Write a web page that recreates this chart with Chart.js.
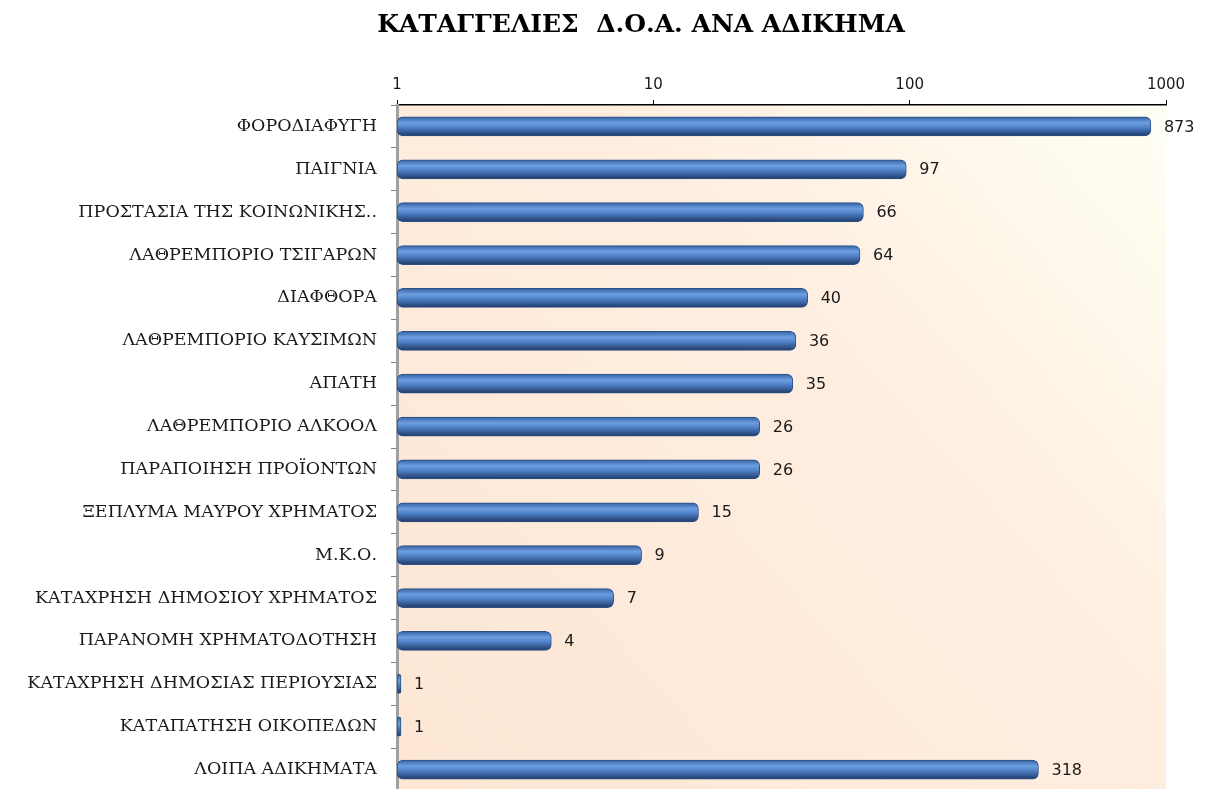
<!DOCTYPE html>
<html>
<head>
<meta charset="utf-8">
<script src="https://cdn.jsdelivr.net/npm/chart.js@4"></script>
<style>
  html, body { margin: 0; padding: 0; background: #ffffff; overflow: hidden; }
  #wrap { width: 1213px; height: 791px; position: relative; }
</style>
</head>
<body>
<div id="wrap"><canvas id="offenceChart"></canvas></div>
<script>
// --- data ---
const chartTitle = "ΚΑΤΑΓΓΕΛΙΕΣ  Δ.Ο.Α. ΑΝΑ ΑΔΙΚΗΜΑ";
const offences = [
    "ΦΟΡΟΔΙΑΦΥΓΗ",
    "ΠΑΙΓΝΙΑ",
    "ΠΡΟΣΤΑΣΙΑ ΤΗΣ ΚΟΙΝΩΝΙΚΗΣ..",
    "ΛΑΘΡΕΜΠΟΡΙΟ ΤΣΙΓΑΡΩΝ",
    "ΔΙΑΦΘΟΡΑ",
    "ΛΑΘΡΕΜΠΟΡΙΟ ΚΑΥΣΙΜΩΝ",
    "ΑΠΑΤΗ",
    "ΛΑΘΡΕΜΠΟΡΙΟ ΑΛΚΟΟΛ",
    "ΠΑΡΑΠΟΙΗΣΗ ΠΡΟΪΟΝΤΩΝ",
    "ΞΕΠΛΥΜΑ ΜΑΥΡΟΥ ΧΡΗΜΑΤΟΣ",
    "Μ.Κ.Ο.",
    "ΚΑΤΑΧΡΗΣΗ ΔΗΜΟΣΙΟΥ ΧΡΗΜΑΤΟΣ",
    "ΠΑΡΑΝΟΜΗ ΧΡΗΜΑΤΟΔΟΤΗΣΗ",
    "ΚΑΤΑΧΡΗΣΗ ΔΗΜΟΣΙΑΣ ΠΕΡΙΟΥΣΙΑΣ",
    "ΚΑΤΑΠΑΤΗΣΗ ΟΙΚΟΠΕΔΩΝ",
    "ΛΟΙΠΑ ΑΔΙΚΗΜΑΤΑ"
];
const complaints = [873, 97, 66, 64, 40, 36, 35, 26, 26, 15, 9, 7, 4, 1, 1, 318];
const xTicks = [1, 10, 100, 1000];

// title, drawn a little left of the page centre like the original
const titleText = {
    id: "titleText",
    afterDraw(chart) {
        const { ctx } = chart;
        ctx.save();
        ctx.font = "bold 25px 'DejaVu Serif'";
        ctx.fillStyle = "#000000";
        ctx.textAlign = "center";
        ctx.textBaseline = "middle";
        ctx.fillText(chartTitle, 641, 25);
        ctx.restore();
    }
};

// plot area background: peach bottom-left to ivory top-right
const plotBackground = {
    id: "plotBackground",
    beforeDraw(chart) {
        const { ctx, chartArea: a } = chart;
        const g = ctx.createLinearGradient(a.left, a.bottom, a.right, a.top);
        g.addColorStop(0, "#fde6d4");
        g.addColorStop(0.6, "#feeee0");
        g.addColorStop(1, "#fffff4");
        ctx.save();
        ctx.fillStyle = g;
        ctx.fillRect(a.left, a.top, a.right - a.left, a.bottom - a.top);
        ctx.restore();
    }
};

// value labels to the right of each bar
const valueLabels = {
    id: "valueLabels",
    afterDatasetsDraw(chart) {
        const { ctx } = chart;
        const meta = chart.getDatasetMeta(0);
        ctx.save();
        ctx.font = "16px 'DejaVu Sans'";
        ctx.fillStyle = "#1a1a1a";
        ctx.textBaseline = "middle";
        ctx.textAlign = "left";
        meta.data.forEach((bar, i) => {
            ctx.fillText(String(complaints[i]), bar.x + 13, bar.y + 1);
        });
        ctx.restore();
    }
};

// cylinder-like shading per bar
function barFill(context) {
    const chart = context.chart;
    const y = chart.scales && chart.scales.y;
    if (!y || context.dataIndex === undefined) return "#4a7ebb";
    const cy = y.getPixelForValue(context.dataIndex);
    if (!isFinite(cy)) return "#4a7ebb";
    const g = chart.ctx.createLinearGradient(0, cy - 9, 0, cy + 9);
    g.addColorStop(0, "#3a68a8");
    g.addColorStop(0.3, "#6c9ee0");
    g.addColorStop(0.55, "#4f82c8");
    g.addColorStop(1, "#233f6e");
    return g;
}

const ctxOffence = document.getElementById("offenceChart");
new Chart(ctxOffence, {
    type: "bar",
    data: {
        labels: offences,
        datasets: [
            {
                data: complaints,
                backgroundColor: barFill,
                borderColor: "#2c4f85",
                borderWidth: 1,
                borderRadius: 6,
                borderSkipped: false,
                barThickness: 19,
                minBarLength: 4,
            },
        ],
    },
    options: {
        indexAxis: "y",
        responsive: true,
        maintainAspectRatio: false,
        animation: false,
        layout: { padding: { left: 0, right: 47, top: 54, bottom: 0 } },
        plugins: {
            legend: { display: false },
            tooltip: { enabled: false },
            title: { display: false },
        },
        scales: {
            x: {
                type: "logarithmic",
                position: "top",
                min: 1,
                max: 1000,
                afterBuildTicks(scale) {
                    scale.ticks = xTicks.map((v) => ({ value: v }));
                },
                afterFit(scale) {
                    scale.height = 51;
                },
                ticks: {
                    color: "#1a1a1a",
                    font: { family: "'DejaVu Sans'", size: 15 },
                    padding: 6,
                    maxRotation: 0,
                    autoSkip: false,
                    callback: (v) => String(v),
                },
                grid: {
                    drawOnChartArea: false,
                    drawTicks: true,
                    tickLength: 5,
                    color: "#000000",
                },
                border: { display: true, color: "#000000", width: 1.5 },
            },
            y: {
                afterFit(scale) {
                    scale.width = 397;
                    scale.paddingTop = 0;
                    scale.paddingBottom = 0;
                },
                ticks: {
                    color: "#1a1a1a",
                    font: { family: "'DejaVu Serif'", size: 17.5 },
                    padding: 14,
                    autoSkip: false,
                },
                grid: {
                    offset: true,
                    drawOnChartArea: false,
                    tickLength: 6,
                    color: "#7f7f7f",
                },
                border: { display: true, color: "#a0a0a0", width: 3 },
            },
        },
    },
    plugins: [plotBackground, valueLabels, titleText],
});
</script>
</body>
</html>
